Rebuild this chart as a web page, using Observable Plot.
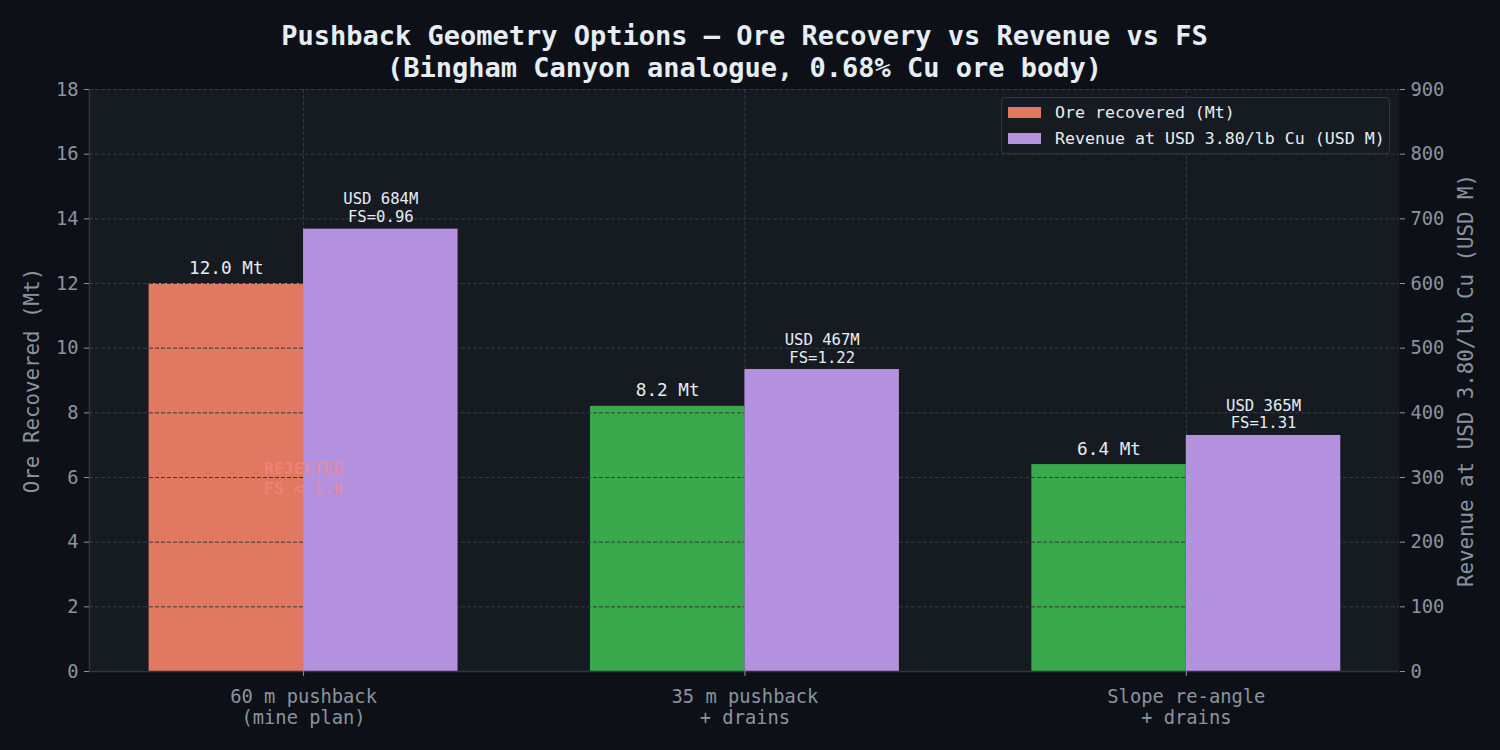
<!DOCTYPE html>
<html>
<head>
<meta charset="utf-8">
<script src="https://cdn.jsdelivr.net/npm/d3@7"></script>
<script src="https://cdn.jsdelivr.net/npm/@observablehq/plot@0.6"></script>
<style>
  html, body { margin: 0; padding: 0; background: #0d1117; }
  #page { position: relative; width: 1500px; height: 750px; overflow: hidden; background: #0d1117; font-family: "DejaVu Sans Mono", monospace; }
  #title { position: absolute; left: 0; top: 20px; width: 1489px; text-align: center; color: #e6edf3; font-weight: bold; font-size: 27px; line-height: 32px; z-index: 2; }
  #chart { position: absolute; left: 0; top: 60px; }
  #legend { position: absolute; left: 1001px; top: 97px; width: 389px; height: 57px; box-sizing: border-box; border: 1px solid #30363d; border-radius: 4px; background: rgba(22,27,34,0.92); z-index: 3; }
  .entry { position: absolute; left: 6px; height: 20px; display: flex; align-items: center; color: #e6edf3; font-size: 16.6px; white-space: nowrap; }
  .swatch { width: 33px; height: 11px; margin-right: 14px; }
</style>
</head>
<body>
<div id="page">
  <div id="title">Pushback Geometry Options — Ore Recovery vs Revenue vs FS<br>(Bingham Canyon analogue, 0.68% Cu ore body)</div>
  <div id="chart"></div>
  <div id="legend"></div>
</div>
<script>
// Pushback options compared on ore tonnage, revenue and slope factor of safety
const categories = ["60 m pushback\n(mine plan)", "35 m pushback\n+ drains", "Slope re-angle\n+ drains"];
const oreMt = [12.0, 8.2, 6.4];
const revenueUsdM = [684, 467, 365];
const factorOfSafety = [0.96, 1.22, 1.31];
const oreTicks = [0, 2, 4, 6, 8, 10, 12, 14, 16, 18];
const legendLabels = ["Ore recovered (Mt)", "Revenue at USD 3.80/lb Cu (USD M)"];

// Right axis: 0–900 USD M shares the 0–18 Mt left axis
const REV_PER_MT = 900 / 18;
const BAR_W = 0.35;
const X_DOMAIN = [-0.485, 2.483];

const RED = "#e07862";
const GREEN = "#3aa84c";
const PURPLE = "#c49ff3";
const TEXT = "#e6edf3";
const MUTED = "#8b949e";
const GRID = "#333a42";
const SPINE = "#30363d";
const FONT = "DejaVu Sans Mono";

const rows = categories.map((c, i) => ({
  i, c, ore: oreMt[i], rev: revenueUsdM[i], fs: factorOfSafety[i]
}));

const chart = Plot.plot({
  width: 1500,
  height: 690,
  marginTop: 29,
  marginBottom: 79,
  marginLeft: 89,
  marginRight: 101,
  style: { fontFamily: FONT, background: "#0d1117", color: MUTED, overflow: "visible" },
  x: { type: "linear", domain: X_DOMAIN, label: null },
  y: { domain: [0, 18], label: null },
  color: { type: "identity" },
  marks: [
    Plot.frame({ fill: "#161b22", stroke: null }),
    // ore bars sit beneath the left-axis grid
    Plot.rectY(rows, {
      x1: d => d.i - BAR_W, x2: d => d.i, y1: 0, y2: "ore",
      fill: d => d.fs < 1 ? RED : GREEN
    }),
    Plot.ruleY(oreTicks, { stroke: GRID, strokeWidth: 1, strokeDasharray: "4,2" }),
    Plot.ruleX(rows, { x: "i", stroke: GRID, strokeWidth: 1, strokeDasharray: "4,2" }),
    // revenue bars, scaled onto the ore axis
    Plot.rectY(rows, {
      x1: d => d.i, x2: d => d.i + BAR_W, y1: 0, y2: d => d.rev / REV_PER_MT,
      fill: PURPLE, fillOpacity: 0.9
    }),
    // rejection stamp for options below FS 1.0
    Plot.text(rows.filter(d => d.fs < 1), {
      x: "i", y: d => d.ore / 2,
      text: () => "REJECTED\nFS < 1.0",
      fill: "#ff8585", fillOpacity: 0.6, fontWeight: "bold", fontSize: 16.4,
      lineHeight: 1.2, fontFamily: FONT
    }),
    Plot.text(rows, {
      x: d => d.i - BAR_W / 2, y: "ore",
      text: d => `${d.ore.toFixed(1)} Mt`,
      lineAnchor: "bottom", dy: -10, fill: TEXT, fontSize: 17.7, fontFamily: FONT
    }),
    Plot.text(rows, {
      x: d => d.i + BAR_W / 2, y: d => d.rev / REV_PER_MT,
      text: d => `USD ${d.rev}M\nFS=${d.fs.toFixed(2)}`,
      lineAnchor: "bottom", dy: -7, fill: TEXT, fontSize: 15.6, lineHeight: 1.15, fontFamily: FONT
    }),
    // spines
    Plot.ruleY([0], { stroke: SPINE, strokeWidth: 1.5 }),
    Plot.ruleX([X_DOMAIN[0]], { stroke: SPINE, strokeWidth: 1.5 }),
    // axes
    Plot.axisY(oreTicks, {
      anchor: "left", tickSize: 5, tickPadding: 6, stroke: MUTED, fill: MUTED,
      fontSize: 18.75, label: null
    }),
    Plot.axisY(oreTicks, {
      anchor: "right", tickSize: 5, tickPadding: 6, stroke: MUTED, fill: MUTED,
      fontSize: 18.75, tickFormat: d => d * REV_PER_MT, label: null
    }),
    Plot.axisX(rows.map(d => d.i), {
      anchor: "bottom", tickSize: 5, tickPadding: 12, stroke: MUTED, fill: MUTED,
      fontSize: 18.75, lineHeight: 1.12, tickFormat: i => categories[i], label: null
    }),
    Plot.text(["Ore Recovered (Mt)"], {
      frameAnchor: "left", dx: -57, rotate: -90, textAnchor: "middle",
      fill: MUTED, fontSize: 20.8, fontFamily: FONT
    }),
    Plot.text(["Revenue at USD 3.80/lb Cu (USD M)"], {
      frameAnchor: "right", dx: 67, rotate: -90, textAnchor: "middle",
      fill: MUTED, fontSize: 20.8, fontFamily: FONT
    })
  ]
});
document.getElementById("chart").appendChild(chart);

// legend
const legend = document.getElementById("legend");
[RED, "#b392de"].forEach((col, k) => {
  const e = document.createElement("div");
  e.className = "entry";
  e.style.top = (4 + k * 26) + "px";
  const sw = document.createElement("span");
  sw.className = "swatch";
  sw.style.background = col;
  const lab = document.createElement("span");
  lab.textContent = legendLabels[k];
  e.appendChild(sw);
  e.appendChild(lab);
  legend.appendChild(e);
});
</script>
</body>
</html>
